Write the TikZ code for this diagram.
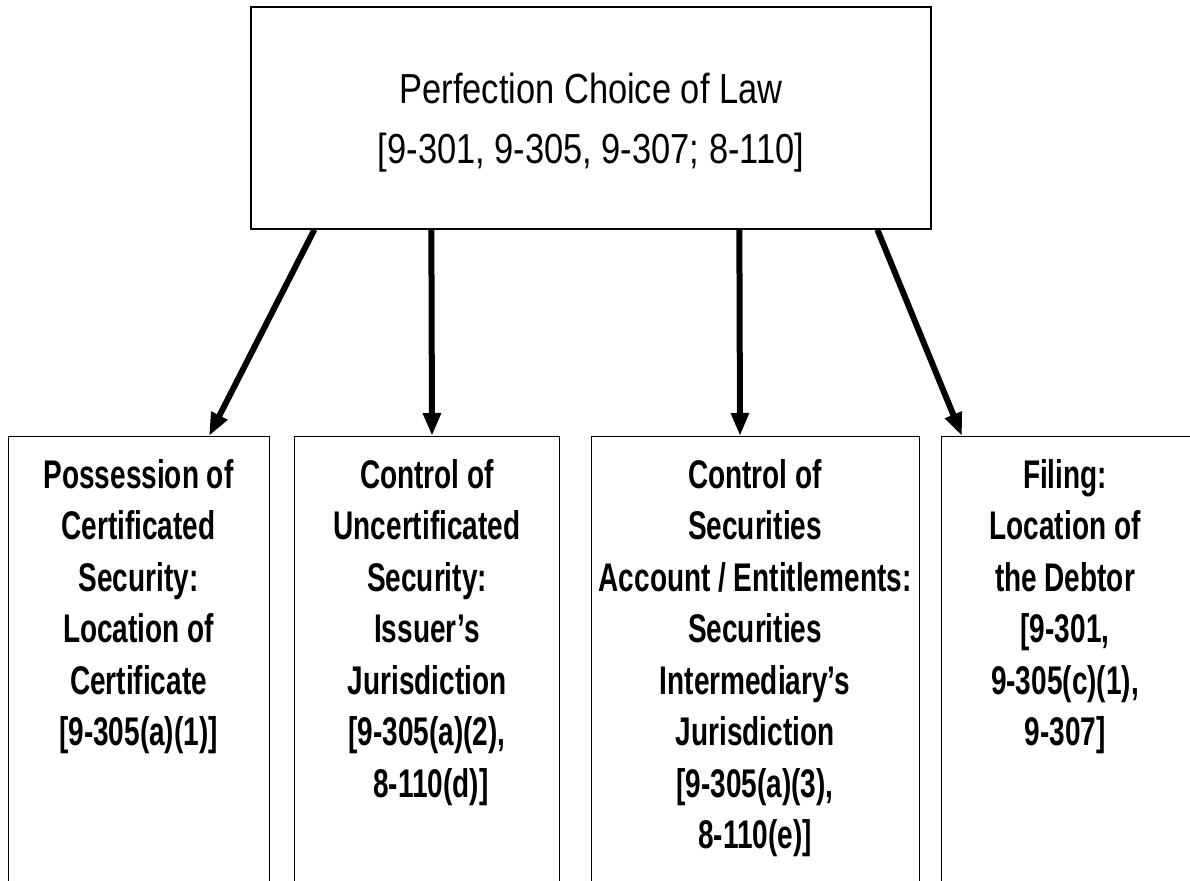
\documentclass[tikz,border=0pt]{standalone}
\usepackage{fontspec}
\setmainfont{Liberation Sans}
\newfontfamily\condfont[FakeStretch=0.70]{Liberation Sans}
\newfontfamily\topfont[FakeStretch=0.82]{Liberation Sans}
\usetikzlibrary{arrows.meta}
\tikzset{
  topbox/.style={draw, line width=1.3pt, minimum width=680pt, minimum height=222pt, inner sep=0pt},
  lowbox/.style={draw, line width=1.3pt, minimum height=480pt, inner sep=0pt, anchor=north west},
  toptext/.style={anchor=north, inner sep=0pt, align=center, font=\topfont\fontsize{42}{60}\selectfont},
  lowtext/.style={anchor=north, inner sep=0pt, align=center, font=\condfont\bfseries\fontsize{40}{51.5}\selectfont},
  arr/.style={line width=6pt, -{Triangle[length=23pt,width=17pt]}}
}
\begin{document}
\begin{tikzpicture}[x=1pt,y=-1pt]
\useasboundingbox (0,0) rectangle (1190,880);
\clip (0,0) rectangle (1190,880);
\node[topbox] (top) at (591,118) {};
\node[toptext] (toptxt) at (591,72.5) {Perfection Choice of Law\\{}{[9-301, 9-305, 9-307; 8-110]}};
\node[lowbox, minimum width=261pt] (b1) at (8,436) {};
\node[lowbox, minimum width=265pt] (b2) at (294,436) {};
\node[lowbox, minimum width=328pt] (b3) at (591,436) {};
\node[lowbox, minimum width=252pt] (b4) at (941,436) {};
\node[lowtext] (t1) at (138.5,459) {Possession of\\Certificated\\Security:\\Location of\\Certificate\\{}{[9-305(a)(1)]}};
\node[lowtext] (t2) at (427,459) {Control of\\Uncertificated\\Security:\\Issuer’s\\Jurisdiction\\{}{[9-305(a)(2),}\\\ 8-110(d)]};
\node[lowtext] (t3) at (755,459) {Control of\\Securities\\Account / Entitlements:\\Securities\\Intermediary’s\\Jurisdiction\\{}{[9-305(a)(3),}\\8-110(e)]};
\node[lowtext] (t4) at (1065,459) {Filing:\\Location of\\the Debtor\\{}{[9-301,}\\9-305(c)(1),\\9-307]};
\draw[arr] ([xshift=64pt]top.south west) -- ([xshift=201pt]b1.north west);
\draw[arr] ([xshift=181pt]top.south west) -- ([xshift=138pt]b2.north west);
\draw[arr] ([xshift=489pt]top.south west) -- ([xshift=149pt]b3.north west);
\draw[arr] ([xshift=627pt]top.south west) -- ([xshift=21pt]b4.north west);
\end{tikzpicture}
\end{document}
